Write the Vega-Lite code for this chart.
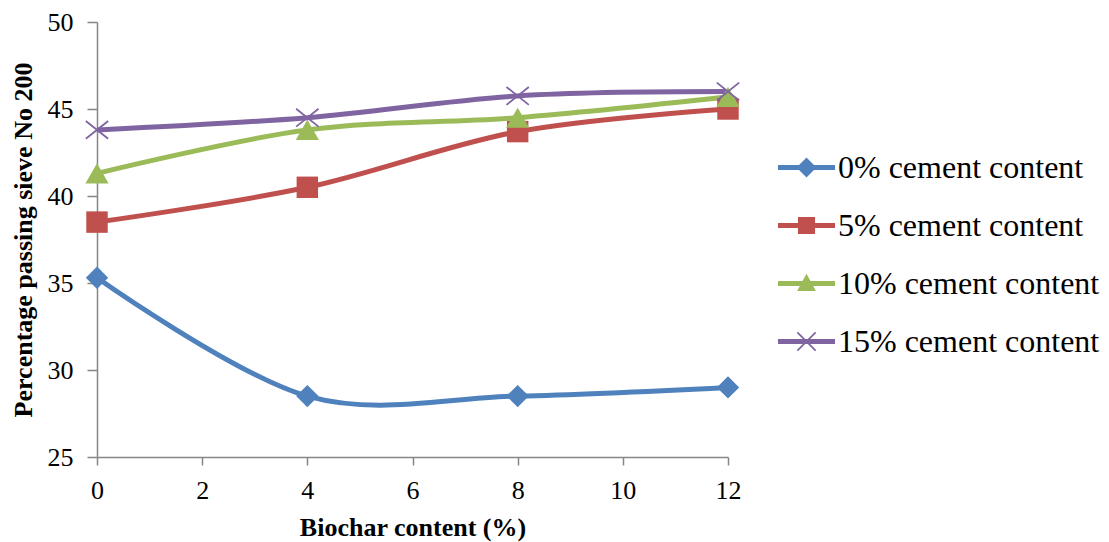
{
  "$schema": "https://vega.github.io/schema/vega-lite/v6.json",
  "width": 631,
  "height": 435,
  "autosize": {"type": "none"},
  "padding": {"left": 97, "top": 22, "right": 381, "bottom": 85},
  "background": "white",
  "config": {
    "view": {"stroke": null},
    "font": "Liberation Serif",
    "axis": {"labelFont": "Liberation Serif", "titleFont": "Liberation Serif"},
    "legend": {"labelFont": "Liberation Serif", "titleFont": "Liberation Serif"}
  },
  "data": {
    "values": [
      {"biochar": 0, "pct": 35.3, "series": "0% cement content"},
      {"biochar": 4, "pct": 28.5, "series": "0% cement content"},
      {"biochar": 8, "pct": 28.5, "series": "0% cement content"},
      {"biochar": 12, "pct": 29.0, "series": "0% cement content"},
      {"biochar": 0, "pct": 38.5, "series": "5% cement content"},
      {"biochar": 4, "pct": 40.5, "series": "5% cement content"},
      {"biochar": 8, "pct": 43.7, "series": "5% cement content"},
      {"biochar": 12, "pct": 45.0, "series": "5% cement content"},
      {"biochar": 0, "pct": 41.3, "series": "10% cement content"},
      {"biochar": 4, "pct": 43.8, "series": "10% cement content"},
      {"biochar": 8, "pct": 44.5, "series": "10% cement content"},
      {"biochar": 12, "pct": 45.7, "series": "10% cement content"},
      {"biochar": 0, "pct": 43.8, "series": "15% cement content"},
      {"biochar": 4, "pct": 44.5, "series": "15% cement content"},
      {"biochar": 8, "pct": 45.75, "series": "15% cement content"},
      {"biochar": 12, "pct": 46.0, "series": "15% cement content"}
    ]
  },
  "encoding": {
    "x": {
      "field": "biochar",
      "type": "quantitative",
      "scale": {"domain": [0, 12], "nice": false, "zero": false},
      "axis": {
        "values": [0, 2, 4, 6, 8, 10, 12],
        "title": "Biochar content (%)",
        "titleFont": "Liberation Serif",
        "titleFontSize": 26,
        "titleFontWeight": "bold",
        "titleColor": "black",
        "titlePadding": 11,
        "labelFont": "Liberation Serif",
        "labelFontSize": 26,
        "labelColor": "black",
        "labelPadding": 12,
        "labelFlush": false,
        "labelOverlap": false,
        "tickSize": 8,
        "tickWidth": 1.5,
        "tickColor": "#868686",
        "domainColor": "#868686",
        "domainWidth": 1.5,
        "grid": false
      }
    },
    "y": {
      "field": "pct",
      "type": "quantitative",
      "scale": {"domain": [25, 50], "nice": false, "zero": false},
      "axis": {
        "values": [25, 30, 35, 40, 45, 50],
        "title": "Percentage passing sieve No 200",
        "titleFont": "Liberation Serif",
        "titleFontSize": 26,
        "titleFontWeight": "bold",
        "titleColor": "black",
        "titlePadding": 11,
        "labelFont": "Liberation Serif",
        "labelFontSize": 26,
        "labelColor": "black",
        "labelPadding": 14,
        "labelFlush": false,
        "labelOverlap": false,
        "tickSize": 10,
        "tickWidth": 1.5,
        "tickColor": "#868686",
        "domainColor": "#868686",
        "domainWidth": 1.5,
        "grid": false
      }
    },
    "color": {
      "field": "series",
      "type": "nominal",
      "scale": {
        "domain": ["0% cement content", "5% cement content", "10% cement content", "15% cement content"],
        "range": ["#4F81BD", "#C0504D", "#9BBB59", "#8064A2"]
      },
      "legend": {
        "title": null,
        "orient": "none",
        "legendX": 681,
        "legendY": 117,
        "padding": 0,
        "offset": 0,
        "rowPadding": 13,
        "symbolSize": 3249,
        "symbolStrokeWidth": 0,
        "labelOffset": 3,
        "labelFontSize": 32,
        "labelFont": "Liberation Serif",
        "labelColor": "black",
        "labelLimit": 400,
        "labelBaseline": "middle",
        "encode": {
          "symbols": {
            "update": {
              "shape": {
                "signal": "datum.value === '0% cement content' ? 'M-1,-0.088H-0.262L0,-0.35L0.262,-0.088H1V0.088H0.262L0,0.35L-0.262,0.088H-1Z' : datum.value === '5% cement content' ? 'M-1,-0.088H-0.3V-0.3H0.3V-0.088H1V0.088H0.3V0.3H-0.3V0.088H-1Z' : datum.value === '10% cement content' ? 'M-1,-0.088H1V0.088H-1Z M0,-0.34L0.33,0.26H-0.33Z' : 'M-1,-0.088H1V0.088H-1Z M-0.299,-0.341L0.341,0.299L0.299,0.341L-0.341,-0.299Z M-0.299,0.341L-0.341,0.299L0.299,-0.341L0.341,-0.299Z'"
              },
              "fill": {"scale": "color", "field": "value"},
              "stroke": {"value": "transparent"},
              "strokeWidth": {"value": 0},
              "opacity": {"value": 1},
              "fillOpacity": {"value": 1}
            }
          }
        }
      }
    }
  },
  "layer": [
    {
      "mark": {"type": "line", "interpolate": "cardinal", "strokeWidth": 5}
    },
    {
      "transform": [{"filter": "datum.series === '0% cement content'"}],
      "mark": {"type": "point", "shape": "diamond", "filled": true, "opacity": 1, "size": 500}
    },
    {
      "transform": [{"filter": "datum.series === '5% cement content'"}],
      "mark": {"type": "point", "shape": "square", "filled": true, "opacity": 1, "size": 460}
    },
    {
      "transform": [{"filter": "datum.series === '10% cement content'"}],
      "mark": {"type": "point", "shape": "triangle-up", "filled": true, "opacity": 1, "size": 540}
    },
    {
      "transform": [{"filter": "datum.series === '15% cement content'"}],
      "mark": {"type": "point", "shape": "M-1,-0.8L1,0.8M-1,0.8L1,-0.8", "filled": false, "opacity": 1, "size": 500, "strokeWidth": 1.8}
    }
  ]
}
